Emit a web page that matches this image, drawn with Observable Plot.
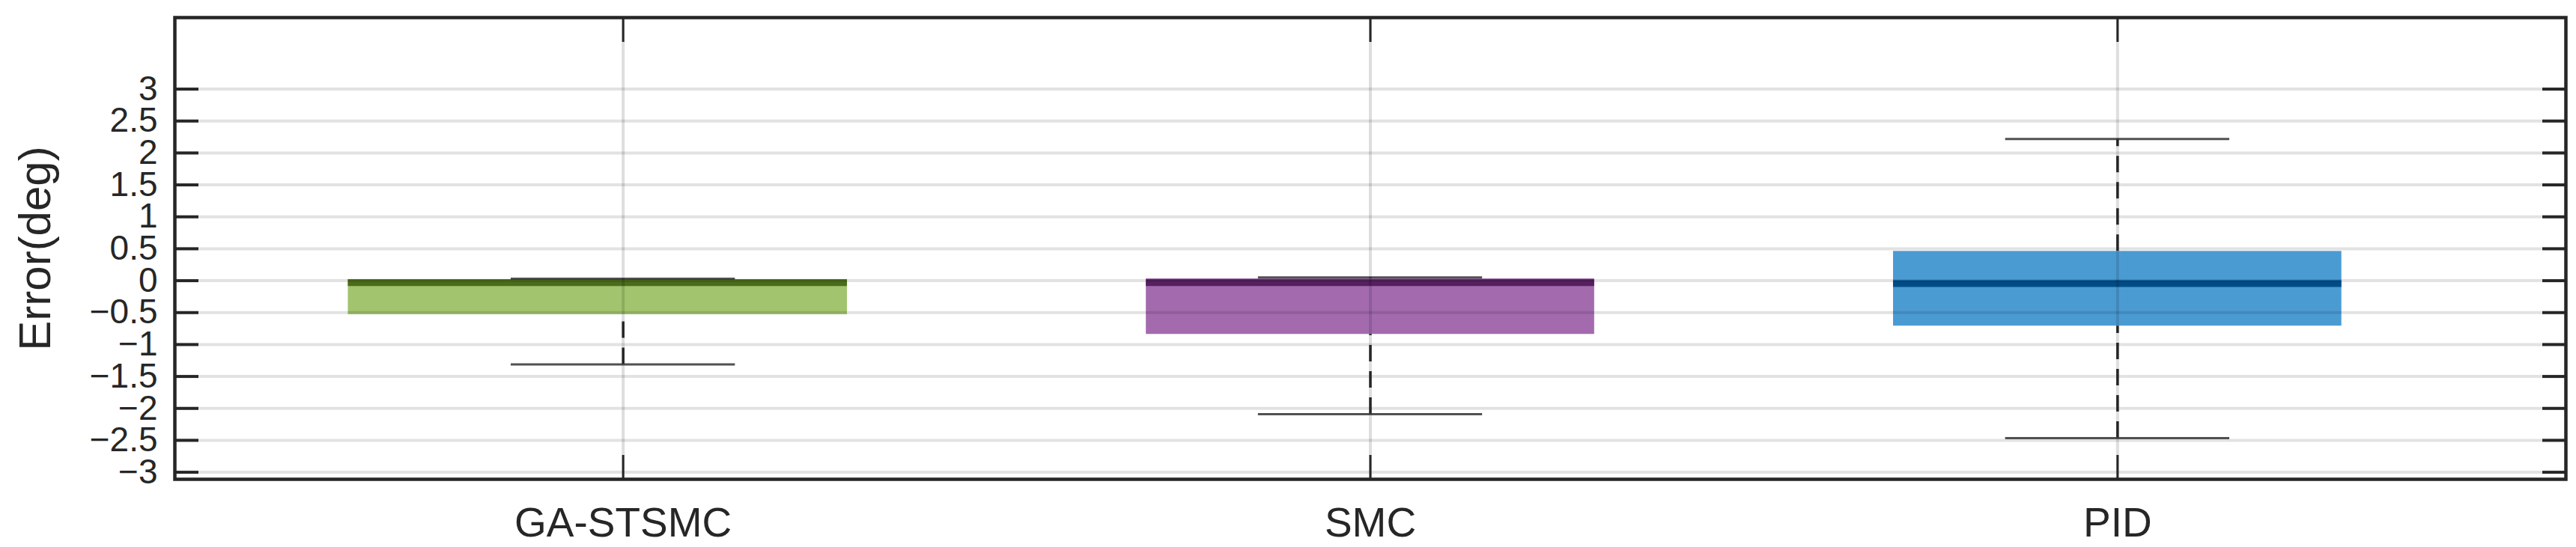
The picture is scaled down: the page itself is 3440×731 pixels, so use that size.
<!DOCTYPE html>
<html>
<head>
<meta charset="utf-8">
<script src="https://cdn.jsdelivr.net/npm/d3@7"></script>
<script src="https://cdn.jsdelivr.net/npm/@observablehq/plot@0.6"></script>
<style>
  html, body { margin: 0; padding: 0; background: #ffffff; }
  #chart svg { display: block; }
</style>
</head>
<body>
<div id="chart"></div>
<script>
// ---- data ----
const categories   = ["GA-STSMC", "SMC", "PID"];
const q1           = [-0.53, -0.84, -0.71];
const medians      = [-0.03, -0.03, -0.045];
const q3           = [0.02, 0.03, 0.46];
const lowerWhisker = [-1.31, -2.09, -2.465];
const upperWhisker = [0.03, 0.05, 2.22];
const boxColors    = ["#a2c46e", "#a36bae", "#4b9bd3"];
const medianColors = ["#4b6b1c", "#56205f", "#004c87"];
const yTicks       = [-3, -2.5, -2, -1.5, -1, -0.5, 0, 0.5, 1, 1.5, 2, 2.5, 3];
const xTicks       = [1, 2, 3];

// box extents around each category position (left / right half-widths)
const boxLeft  = [0.368, 0.3, 0.3];
const boxRight = [0.3, 0.3, 0.3];

const rows = categories.map((c, i) => ({
  cat: c, pos: i + 1,
  q1: q1[i], med: medians[i], q3: q3[i],
  lo: lowerWhisker[i], hi: upperWhisker[i],
  fill: boxColors[i], mcol: medianColors[i],
  bl: boxLeft[i], br: boxRight[i]
}));

const halfCap = 0.15;
const ink = "#262626";
const fmt = d => (d < 0 ? "\u2212" : "") + Math.abs(d);

const chart = Plot.plot({
  width: 3440,
  height: 731,
  marginLeft: 233,
  marginRight: 14,
  marginTop: 23,
  marginBottom: 91,
  style: { fontFamily: "'Liberation Sans', Arial, Helvetica, sans-serif", color: ink, background: "#ffffff" },
  x: { domain: [0.4, 3.6] },
  y: { domain: [-3.11, 4.12] },
  color: { type: "identity" },
  marks: [
    // boxes
    Plot.rectY(rows, { x1: d => d.pos - d.bl, x2: d => d.pos + d.br, y1: "q1", y2: "q3", fill: "fill" }),
    // medians
    Plot.ruleY(rows, { x1: d => d.pos - d.bl, x2: d => d.pos + d.br, y: "med", stroke: "mcol", strokeWidth: 9 }),
    // grid (drawn on top, translucent)
    Plot.gridY(yTicks, { stroke: "#000", strokeOpacity: 0.115, strokeWidth: 4 }),
    Plot.gridX(xTicks, { stroke: "#000", strokeOpacity: 0.13, strokeWidth: 4 }),
    // whiskers (dashed)
    Plot.ruleX(rows, { x: "pos", y1: "lo", y2: "q1", stroke: ink, strokeWidth: 3.5, strokeDasharray: "22,13" }),
    Plot.ruleX(rows, { x: "pos", y1: "q3", y2: "hi", stroke: ink, strokeWidth: 3.5, strokeDasharray: "22,13" }),
    // caps
    Plot.ruleY(rows, { x1: d => d.pos - halfCap, x2: d => d.pos + halfCap, y: "lo", stroke: "#333", strokeOpacity: 0.85, strokeWidth: 3 }),
    Plot.ruleY(rows, { x1: d => d.pos - halfCap, x2: d => d.pos + halfCap, y: "hi", stroke: "#333", strokeOpacity: 0.85, strokeWidth: 3 }),
    // inward ticks on all four sides
    Plot.axisY({ anchor: "left", ticks: yTicks, tickSize: 32, dx: 32, fill: "none", stroke: ink, strokeWidth: 4, label: null }),
    Plot.axisY({ anchor: "right", ticks: yTicks, tickSize: 32, dx: -32, fill: "none", stroke: ink, strokeWidth: 4, label: null }),
    Plot.axisX({ anchor: "bottom", ticks: xTicks, tickSize: 32, dy: -32, fill: "none", stroke: ink, strokeWidth: 3, label: null }),
    Plot.axisX({ anchor: "top", ticks: xTicks, tickSize: 32, dy: 32, fill: "none", stroke: ink, strokeWidth: 3, label: null }),
    // tick labels
    Plot.axisY({ anchor: "left", ticks: yTicks, tickSize: 0, tickPadding: 23, fontSize: 46, tickFormat: fmt, fill: ink, label: null }),
    Plot.axisX({ anchor: "bottom", ticks: xTicks, tickSize: 0, tickPadding: 37, fontSize: 55, tickFormat: d => categories[d - 1], fill: ink, label: null }),
    // y-axis title
    Plot.text(["Error(deg)"], { frameAnchor: "left", textAnchor: "middle", lineAnchor: "middle", rotate: -90, dx: -186, fontSize: 60, fill: ink }),
    // frame
    Plot.frame({ stroke: ink, strokeWidth: 4.5 })
  ]
});
document.getElementById("chart").appendChild(chart);
</script>
</body>
</html>
